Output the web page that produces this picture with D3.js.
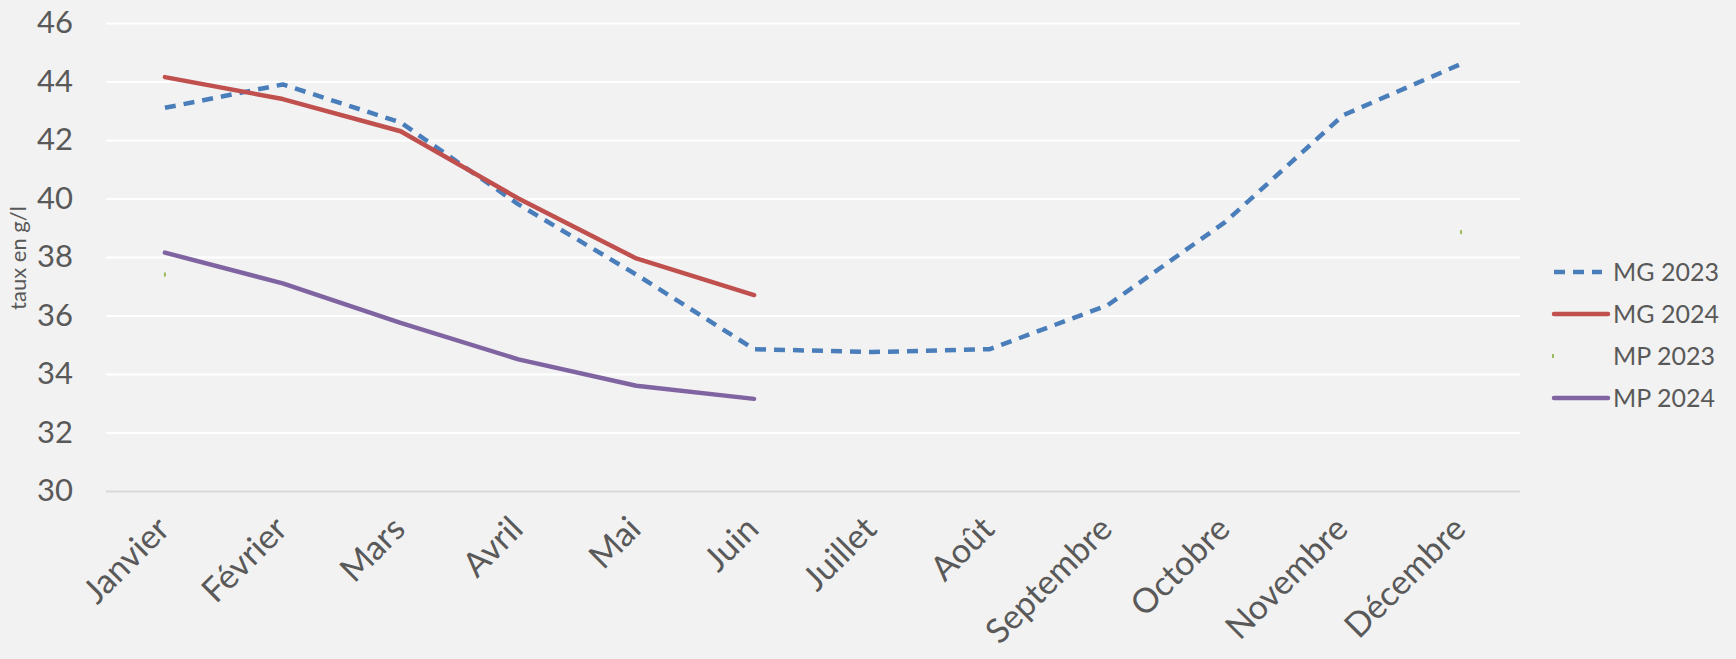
<!DOCTYPE html>
<html>
<head>
<meta charset="utf-8">
<script src="https://cdn.jsdelivr.net/npm/d3@7"></script>
<style>
  body { margin: 0; background: #f2f2f2; }
  svg { display: block; }
</style>
</head>
<body>
<div id="chart"></div>
<script>
// categories and values
const months = ["Janvier", "Février", "Mars", "Avril", "Mai", "Juin", "Juillet", "Août", "Septembre", "Octobre", "Novembre", "Décembre"];
const mg2023 = [43.1, 43.9, 42.6, 39.8, 37.4, 34.85, 34.75, 34.85, 36.35, 39.2, 42.85, 44.6];
const mg2024 = [44.15, 43.4, 42.3, 40.0, 37.95, 36.7, null, null, null, null, null, null];
const mp2023 = [37.4, null, null, null, null, null, null, null, null, null, null, 38.85];
const mp2024 = [38.15, 37.1, 35.75, 34.5, 33.6, 33.15, null, null, null, null, null, null];
const yTicks = [30, 32, 34, 36, 38, 40, 42, 44, 46];

const width = 1736;
const height = 659;
const font = "Lato, 'Open Sans', sans-serif";
const textColor = "#595959";

const margin = {left: 106, right: 216, top: 23, bottom: 168};

const svg = d3.select("#chart")
    .append("svg")
    .attr("width", width)
    .attr("height", height)
    .style("background", "#f2f2f2");

const x = d3.scalePoint()
    .domain(months)
    .range([margin.left, width - margin.right])
    .padding(0.5);

const y = d3.scaleLinear()
    .domain([30, 46])
    .range([height - margin.bottom, margin.top]);

// gridlines + y labels
const yAxis = svg.append("g")
    .attr("transform", `translate(${margin.left},0)`)
    .call(d3.axisLeft(y).tickValues(yTicks).tickSize(-(width - margin.left - margin.right)).tickPadding(33));
yAxis.select(".domain").remove();
yAxis.selectAll(".tick line")
    .attr("stroke", d => d === 30 ? "#d9d9d9" : "#ffffff")
    .attr("stroke-width", 2);
yAxis.selectAll(".tick text")
    .attr("fill", textColor)
    .style("font-family", font)
    .style("font-size", "31px");

// x labels
const xAxis = svg.append("g")
    .attr("transform", `translate(0,${height - margin.bottom})`)
    .call(d3.axisBottom(x).tickSize(0));
xAxis.select(".domain").remove();
xAxis.selectAll(".tick text")
    .attr("fill", textColor)
    .style("font-family", font)
    .style("font-size", "34px")
    .attr("text-anchor", "end")
    .attr("dy", 0)
    .attr("transform", "translate(4,38) rotate(-45)");

// y axis title
svg.append("text")
    .attr("transform", `translate(26,258) rotate(-90)`)
    .attr("text-anchor", "middle")
    .attr("fill", textColor)
    .style("font-family", font)
    .style("font-size", "22px")
    .text("taux en g/l");

const line = d3.line()
    .defined(d => d != null)
    .x((d, i) => x(months[i]))
    .y(d => y(d));

const series = [
    {name: "MG 2023", values: mg2023, color: "#4a7ebb", dash: "11,8"},
    {name: "MG 2024", values: mg2024, color: "#c0504d", dash: null},
    {name: "MP 2023", values: mp2023, color: "#9bbb59", dash: null},
    {name: "MP 2024", values: mp2024, color: "#8064a2", dash: null}
];

// draw lines (MP 2023 barely visible: only tiny marks)
series.forEach(s => {
    if (s.name === "MP 2023") {
        svg.append("g").selectAll("rect")
            .data(s.values.map((v, i) => ({v, i})).filter(d => d.v != null))
            .enter().append("rect")
            .attr("x", d => x(months[d.i]) - 1)
            .attr("y", d => y(d.v) - 2)
            .attr("width", 2)
            .attr("height", 4)
            .attr("fill", s.color);
        return;
    }
    svg.append("path")
        .datum(s.values)
        .attr("fill", "none")
        .attr("stroke", s.color)
        .attr("stroke-width", 4.5)
        .attr("stroke-linejoin", "round")
        .attr("stroke-linecap", s.dash ? "butt" : "round")
        .attr("stroke-dasharray", s.dash)
        .attr("d", line);
});

// legend
const legend = svg.append("g")
    .attr("transform", "translate(1552,272)");
const item = legend.selectAll("g")
    .data(series)
    .enter().append("g")
    .attr("transform", (d, i) => `translate(0,${i * 42})`);
item.each(function(d) {
    const g = d3.select(this);
    if (d.name === "MP 2023") {
        g.append("rect").attr("x", 0).attr("y", -2).attr("width", 2).attr("height", 4).attr("fill", d.color);
    } else {
        g.append("line")
            .attr("x1", 2).attr("x2", d.dash ? 50 : 56)
            .attr("stroke", d.color)
            .attr("stroke-width", 4.5)
            .attr("stroke-linecap", d.dash ? "butt" : "round")
            .attr("stroke-dasharray", d.dash);
    }
});
item.append("text")
    .attr("x", 61)
    .attr("dy", "0.35em")
    .attr("fill", textColor)
    .style("font-family", font)
    .style("font-size", "25px")
    .text(d => d.name);
</script>
</body>
</html>
